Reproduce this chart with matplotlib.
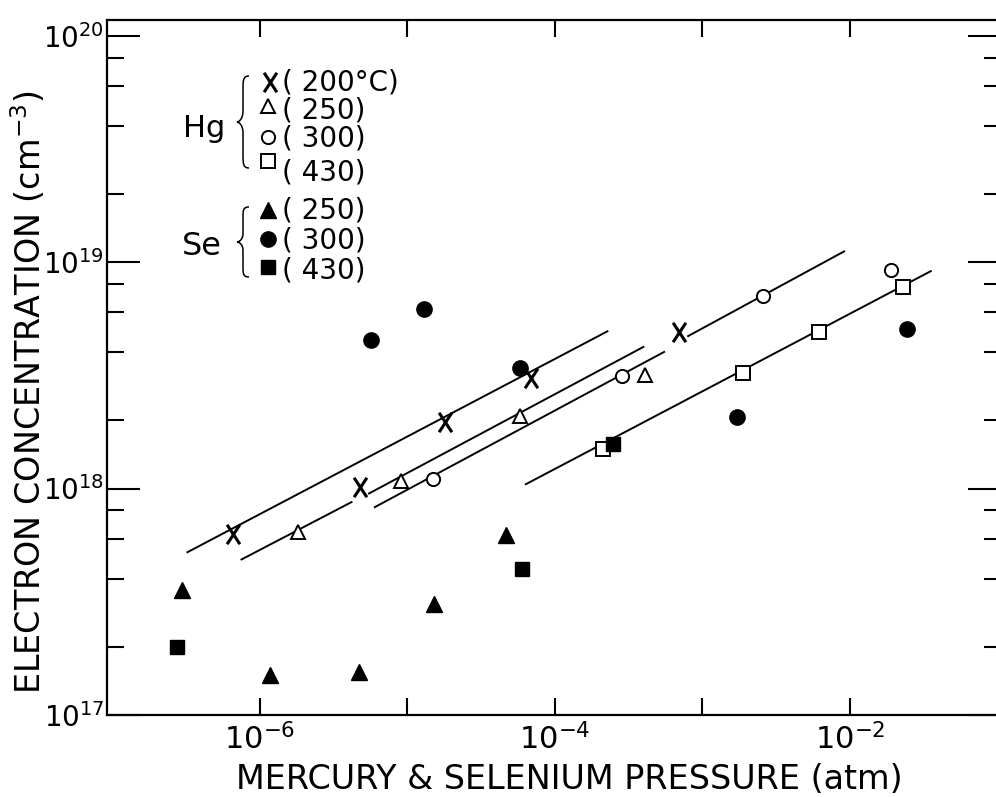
import matplotlib
matplotlib.use('Agg')
import matplotlib.pyplot as plt
from matplotlib.path import Path
from matplotlib.patches import PathPatch
from matplotlib.lines import Line2D
from matplotlib.ticker import FixedLocator, FixedFormatter, NullLocator, NullFormatter

# Hg anneals: pressure (atm) vs electron concentration (cm^-3)
hg200_p = [6.6e-7, 4.8e-6, 1.8e-5, 6.9e-5, 6.9e-4]
hg200_n = [6.3e17, 1.02e18, 1.97e18, 3.07e18, 4.9e18]
hg250_p = [1.82e-6, 9.1e-6, 5.8e-5, 4.1e-4]
hg250_n = [6.4e17, 1.08e18, 2.09e18, 3.18e18]
hg300_p = [1.5e-5, 2.86e-4, 2.58e-3, 1.89e-2]
hg300_n = [1.10e18, 3.14e18, 7.05e18, 9.25e18]
hg430_p = [2.12e-4, 1.88e-3, 6.19e-3, 2.28e-2]
hg430_n = [1.49e18, 3.23e18, 4.93e18, 7.8e18]

# Se anneals
se250_p = [2.95e-7, 1.17e-6, 4.71e-6, 1.51e-5, 4.66e-5]
se250_n = [3.57e17, 1.50e17, 1.55e17, 3.09e17, 6.24e17]
se300_p = [5.64e-6, 1.29e-5, 5.8e-5, 1.72e-3, 2.42e-2]
se300_n = [4.53e18, 6.19e18, 3.40e18, 2.06e18, 5.07e18]
se430_p = [2.75e-7, 5.94e-5, 2.48e-4]
se430_n = [2.0e17, 4.4e17, 1.58e18]

# drawn-in lines (segments, broken where a marker sits on them)
fit200_p = [[3.18e-7, 2.30e-4]]
fit200_n = [[5.21e17, 4.97e18]]
fit250_p = [[7.4e-7, 4.23e-6], [5.42e-6, 4.03e-4]]
fit250_n = [[4.84e17, 8.75e17], [9.47e17, 4.24e18]]
fit300_p = [[5.93e-6, 5.57e-4], [7.89e-4, 9.25e-3]]
fit300_n = [[8.24e17, 4.03e18], [4.69e18, 1.12e19]]
fit430_p = [[6.26e-5, 3.58e-2]]
fit430_n = [[1.04e18, 9.16e18]]

x_ticks = [1e-6, 1e-5, 1e-4, 1e-3, 1e-2]
x_labels = ['$10^{-6}$', '', '$10^{-4}$', '', '$10^{-2}$']
y_ticks = [1e17, 1e18, 1e19, 1e20]
y_labels = ['$10^{17}$', '$10^{18}$', '$10^{19}$', '$10^{20}$']

W, H = 996, 797
plt.rcParams['font.family'] = ['DejaVu Sans']
plt.rcParams['mathtext.fontset'] = 'dejavusans'


def fxy(px, py):
    """pixel position (from top-left) -> figure fraction"""
    return px / W, 1 - py / H


# letter-like X marker
x_marker = Path([(-0.33, -0.5), (0.33, 0.5), (-0.33, 0.5), (0.33, -0.5)],
                [Path.MOVETO, Path.LINETO, Path.MOVETO, Path.LINETO])

styles = {
    'hg200': dict(marker=x_marker, ms=14, mfc='none', mec='black', mew=2.2),
    'hg250': dict(marker='^', ms=10, mfc='white', mec='black', mew=1.4),
    'hg300': dict(marker='o', ms=9.5, mfc='white', mec='black', mew=1.4),
    'hg430': dict(marker='s', ms=9.5, mfc='white', mec='black', mew=1.4),
    'se250': dict(marker='^', ms=12, mfc='black', mec='black', mew=1),
    'se300': dict(marker='o', ms=11, mfc='black', mec='black', mew=1),
    'se430': dict(marker='s', ms=10, mfc='black', mec='black', mew=1),
}

fig = plt.figure(figsize=(W / 100, H / 100), dpi=100)
ax = fig.add_axes([107 / W, 82 / H, 894 / W, 695 / H])
ax.set_xscale('log')
ax.set_yscale('log')

for segs_p, segs_n in [(fit200_p, fit200_n), (fit250_p, fit250_n),
                       (fit300_p, fit300_n), (fit430_p, fit430_n)]:
    for p, n in zip(segs_p, segs_n):
        ax.plot(p, n, color='black', lw=1.4, solid_capstyle='butt')

series = [('hg200', hg200_p, hg200_n), ('hg250', hg250_p, hg250_n),
          ('hg300', hg300_p, hg300_n), ('hg430', hg430_p, hg430_n),
          ('se250', se250_p, se250_n), ('se300', se300_p, se300_n),
          ('se430', se430_p, se430_n)]
for key, p, n in series:
    ax.plot(p, n, linestyle='none', zorder=3, **styles[key])

ax.set_xlim(10 ** -7.037, 10 ** -0.976)
ax.set_ylim(1e17, 10 ** 20.069)

ax.xaxis.set_major_locator(FixedLocator(x_ticks))
ax.xaxis.set_major_formatter(FixedFormatter(x_labels))
ax.xaxis.set_minor_locator(NullLocator())
ax.yaxis.set_major_locator(FixedLocator(y_ticks))
ax.yaxis.set_major_formatter(FixedFormatter(y_labels))
ax.yaxis.set_minor_locator(FixedLocator([k * 10.0 ** e for e in (17, 18, 19) for k in (2, 4, 6, 8)]))
ax.yaxis.set_minor_formatter(NullFormatter())

ax.tick_params(which='both', direction='in', top=True, right=True, width=1.5, color='black')
ax.tick_params(axis='y', which='major', length=24, pad=2, labelsize=20)
ax.tick_params(axis='y', which='minor', length=12)
ax.tick_params(axis='x', which='major', length=12, pad=6, labelsize=22)
for s in ax.spines.values():
    s.set_linewidth(1.6)

# axis titles
fig.text(*fxy(569, 789), 'MERCURY & SELENIUM PRESSURE (atm)', fontsize=24,
         ha='center', va='baseline')
fig.text(*fxy(29, 392), 'ELECTRON CONCENTRATION (cm$^{-3}$)', fontsize=24,
         rotation=90, ha='center', va='center')


# hand-drawn style legend
def brace(x_tip, x_end, y_top, y_bot):
    ym = (y_top + y_bot) / 2
    xm = (x_tip + x_end) / 2
    h = y_bot - y_top
    xq = x_tip + (xm - x_tip) * 0.3
    pts = [(x_end, y_top),
           (xm, y_top), (xm, y_top + 0.05 * h), (xm, y_top + 0.15 * h),
           (xm, ym - 0.12 * h),
           (xm, ym - 0.03 * h), (xq, ym), (x_tip, ym),
           (xq, ym), (xm, ym + 0.03 * h), (xm, ym + 0.12 * h),
           (xm, y_bot - 0.15 * h),
           (xm, y_bot - 0.05 * h), (xm, y_bot), (x_end, y_bot)]
    codes = [Path.MOVETO] + [Path.CURVE4] * 3 + [Path.LINETO] + [Path.CURVE4] * 6 + \
            [Path.LINETO] + [Path.CURVE4] * 3
    path = Path([fxy(x, y) for x, y in pts], codes)
    fig.add_artist(PathPatch(path, fill=False, lw=1.1, color='black',
                             transform=fig.transFigure))


fig.text(*fxy(183, 137), 'Hg', fontsize=22, va='baseline')
fig.text(*fxy(182, 255), 'Se', fontsize=23, va='baseline')
brace(237, 249, 76, 168)
brace(237, 249, 207, 277)

legend_rows = [('hg200', 270, 82, '( 200°C)', 91),
               ('hg250', 268, 106, '( 250)', 118),
               ('hg300', 268, 137, '( 300)', 147),
               ('hg430', 268, 161, '( 430)', 180),
               ('se250', 268, 210, '( 250)', 218),
               ('se300', 268, 239, '( 300)', 248),
               ('se430', 268, 267, '( 430)', 278)]
for key, mx, my, label, base in legend_rows:
    x, y = fxy(mx, my)
    fig.add_artist(Line2D([x], [y], linestyle='none', transform=fig.transFigure,
                          **styles[key]))
    fig.text(*fxy(282, base), label, fontsize=20, va='baseline')

fig.savefig('out.png', dpi=100)
